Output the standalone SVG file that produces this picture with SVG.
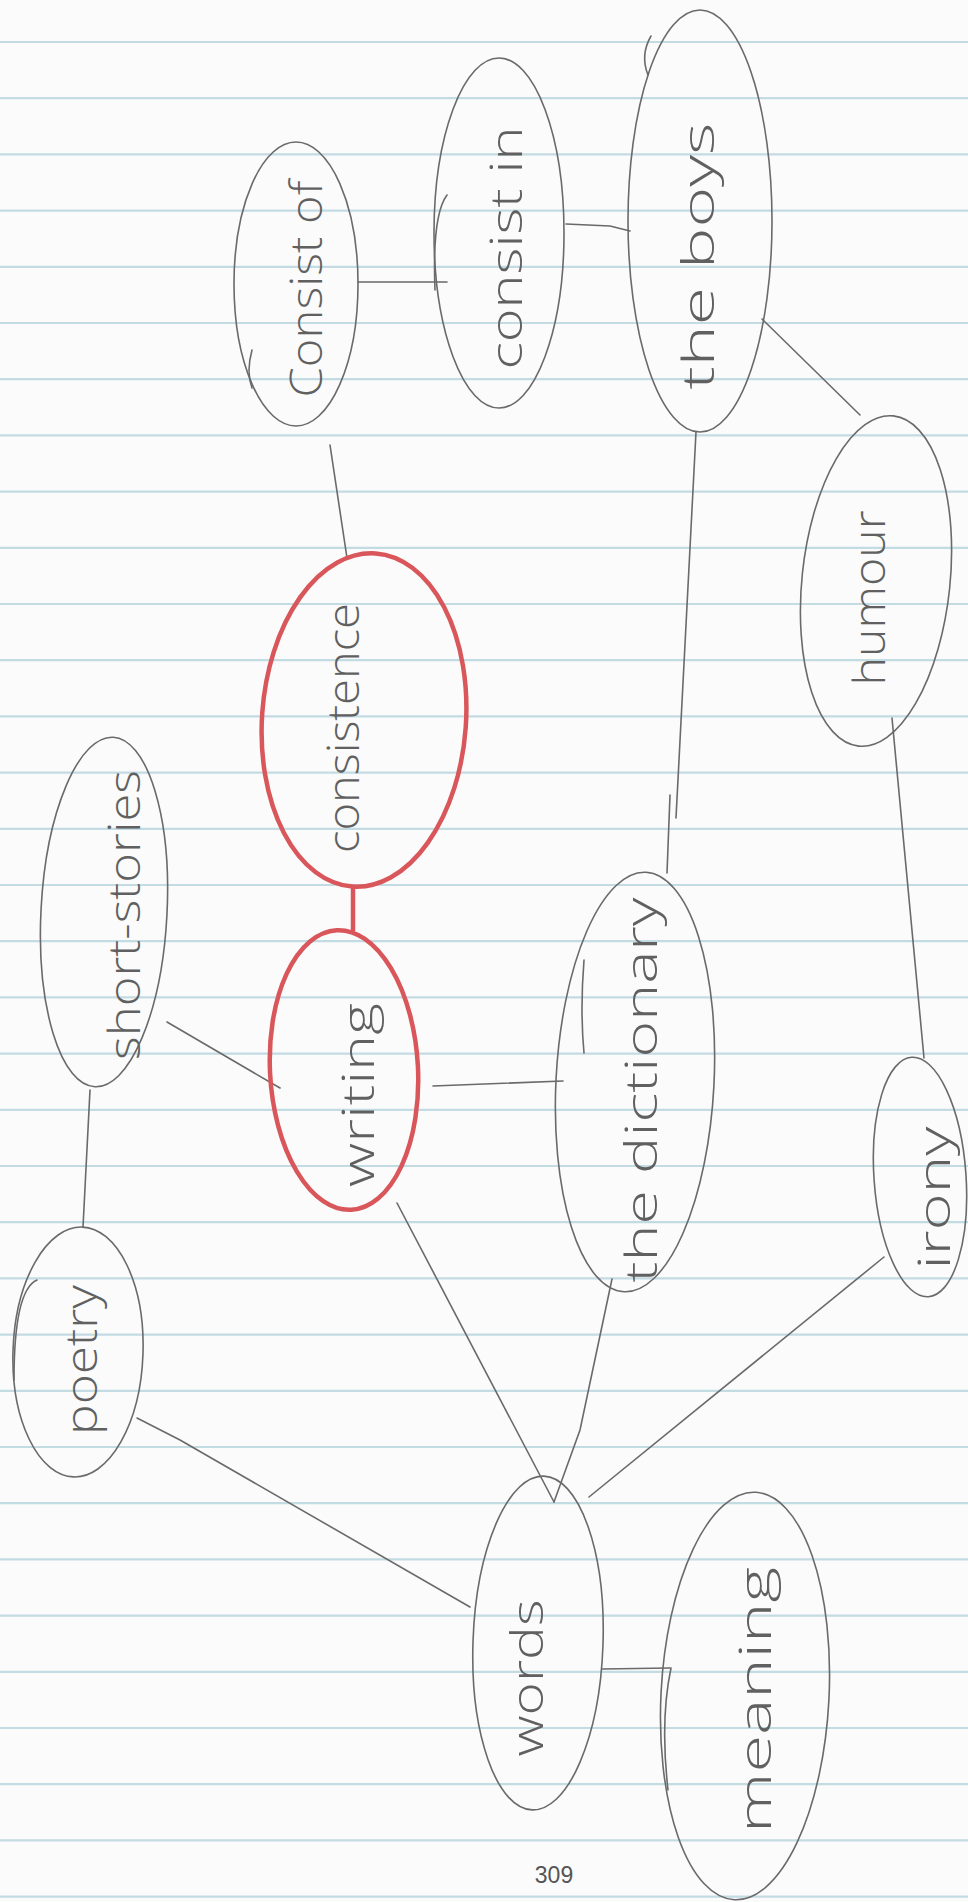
<svg xmlns="http://www.w3.org/2000/svg" width="968" height="1902" viewBox="0 0 968 1902">
<style>
.rule{stroke:#c3dbe2;stroke-width:2.2}
.pen{fill:none;stroke:#6a6a6a;stroke-width:1.6;stroke-linecap:round}
.red{fill:none;stroke:#d9565b;stroke-width:4.5}
.lbl{font-family:"Open Sans","Liberation Sans",sans-serif;font-weight:300;font-size:44px;fill:#606060;text-anchor:middle;dominant-baseline:central}
.num{font-family:"Liberation Sans",Arial,sans-serif;font-size:23px;fill:#555}
</style>
<rect width="968" height="1902" fill="#fafbfa"/>
<g id="paper-lines">
<line class="rule" x1="0" x2="968" y1="42" y2="42"/><line class="rule" x1="0" x2="968" y1="98.2" y2="98.2"/><line class="rule" x1="0" x2="968" y1="154.4" y2="154.4"/><line class="rule" x1="0" x2="968" y1="210.6" y2="210.6"/><line class="rule" x1="0" x2="968" y1="266.8" y2="266.8"/><line class="rule" x1="0" x2="968" y1="323" y2="323"/><line class="rule" x1="0" x2="968" y1="379.2" y2="379.2"/><line class="rule" x1="0" x2="968" y1="435.4" y2="435.4"/><line class="rule" x1="0" x2="968" y1="491.6" y2="491.6"/><line class="rule" x1="0" x2="968" y1="547.8" y2="547.8"/><line class="rule" x1="0" x2="968" y1="604" y2="604"/><line class="rule" x1="0" x2="968" y1="660.2" y2="660.2"/><line class="rule" x1="0" x2="968" y1="716.4" y2="716.4"/><line class="rule" x1="0" x2="968" y1="772.6" y2="772.6"/><line class="rule" x1="0" x2="968" y1="828.8" y2="828.8"/><line class="rule" x1="0" x2="968" y1="885" y2="885"/><line class="rule" x1="0" x2="968" y1="941.2" y2="941.2"/><line class="rule" x1="0" x2="968" y1="997.4" y2="997.4"/><line class="rule" x1="0" x2="968" y1="1053.6" y2="1053.6"/><line class="rule" x1="0" x2="968" y1="1109.8" y2="1109.8"/><line class="rule" x1="0" x2="968" y1="1166" y2="1166"/><line class="rule" x1="0" x2="968" y1="1222.2" y2="1222.2"/><line class="rule" x1="0" x2="968" y1="1278.4" y2="1278.4"/><line class="rule" x1="0" x2="968" y1="1334.6" y2="1334.6"/><line class="rule" x1="0" x2="968" y1="1390.8" y2="1390.8"/><line class="rule" x1="0" x2="968" y1="1447" y2="1447"/><line class="rule" x1="0" x2="968" y1="1503.2" y2="1503.2"/><line class="rule" x1="0" x2="968" y1="1559.4" y2="1559.4"/><line class="rule" x1="0" x2="968" y1="1615.6" y2="1615.6"/><line class="rule" x1="0" x2="968" y1="1671.8" y2="1671.8"/><line class="rule" x1="0" x2="968" y1="1728" y2="1728"/><line class="rule" x1="0" x2="968" y1="1784.2" y2="1784.2"/><line class="rule" x1="0" x2="968" y1="1840.4" y2="1840.4"/><line class="rule" x1="0" x2="968" y1="1896.6" y2="1896.6"/>
</g>
<g id="connectors">
<line class="pen" x1="358" y1="282" x2="447" y2="282"/>
<polyline class="pen" points="566,224 610,226 630,231"/>
<line class="pen" x1="330" y1="445" x2="347" y2="558"/>
<line class="pen" x1="762" y1="319" x2="860" y2="415"/>
<line class="pen" x1="696" y1="432" x2="676" y2="818"/>
<line class="pen" x1="670" y1="795" x2="667" y2="873"/>
<line class="pen" x1="892" y1="718" x2="924" y2="1058"/>
<line class="pen" x1="884" y1="1257" x2="589" y2="1497"/>
<line class="pen" x1="433" y1="1086" x2="563" y2="1081"/>
<line class="red" x1="353" y1="886" x2="353" y2="931"/>
<line class="pen" x1="167" y1="1022" x2="280" y2="1088"/>
<line class="pen" x1="90" y1="1090" x2="83" y2="1227"/>
<polyline class="pen" points="137,1418 180,1440 470,1607"/>
<line class="pen" x1="397" y1="1203" x2="554" y2="1502"/>
<polyline class="pen" points="612,1279 580,1430 554,1502"/>
<line class="pen" x1="602" y1="1669" x2="670" y2="1668"/>
</g>
<g id="node-consist-of">
<ellipse class="pen" cx="296" cy="284" rx="62" ry="142"/>
<path class="pen" d="M252,350 Q246,372 252,388"/>
<text class="lbl" transform="rotate(-90 305 289)" x="305" y="289" textLength="217" lengthAdjust="spacingAndGlyphs">Consist of</text>
</g>
<g id="node-consist-in">
<ellipse class="pen" cx="499" cy="233" rx="65" ry="175"/>
<path class="pen" d="M447,195 Q432,215 435,290"/>
<text class="lbl" transform="rotate(-90 505 248)" x="505" y="248" textLength="243" lengthAdjust="spacingAndGlyphs">consist in</text>
</g>
<g id="node-the-boys">
<ellipse class="pen" cx="700" cy="221" rx="72" ry="211"/>
<path class="pen" d="M651,36 Q640,55 648,75"/>
<text class="lbl" transform="rotate(-90 697 256)" x="697" y="256" textLength="267" lengthAdjust="spacingAndGlyphs">the  boys</text>
</g>
<g id="node-consistence">
<ellipse class="red" cx="364" cy="720" rx="102" ry="167" transform="rotate(4 364 720)"/>
<text class="lbl" transform="rotate(-90 342 728)" x="342" y="728" textLength="250" lengthAdjust="spacingAndGlyphs">consistence</text>
</g>
<g id="node-humour">
<ellipse class="pen" cx="876" cy="581" rx="74" ry="166" transform="rotate(6 876 581)"/>
<text class="lbl" transform="rotate(-90 868 598)" x="868" y="598" textLength="175" lengthAdjust="spacingAndGlyphs">humour</text>
</g>
<g id="node-short-stories">
<ellipse class="pen" cx="104" cy="912" rx="63" ry="175" transform="rotate(3 104 912)"/>
<text class="lbl" transform="rotate(-90 123 915)" x="123" y="915" textLength="290" lengthAdjust="spacingAndGlyphs">short-stories</text>
</g>
<g id="node-writing">
<ellipse class="red" cx="344" cy="1070" rx="74" ry="140" transform="rotate(-3 344 1070)"/>
<text class="lbl" transform="rotate(-90 357 1095)" x="357" y="1095" textLength="184" lengthAdjust="spacingAndGlyphs">writing</text>
</g>
<g id="node-the-dictionary">
<ellipse class="pen" cx="635" cy="1082" rx="79" ry="210" transform="rotate(3 635 1082)"/>
<path class="pen" d="M584,960 Q580,1010 584,1053"/>
<text class="lbl" transform="rotate(-90 640 1090)" x="640" y="1090" textLength="385" lengthAdjust="spacingAndGlyphs">the dictionary</text>
</g>
<g id="node-irony">
<ellipse class="pen" cx="920" cy="1177" rx="46" ry="120" transform="rotate(-4 920 1177)"/>
<text class="lbl" transform="rotate(-90 933 1198)" x="933" y="1198" textLength="143" lengthAdjust="spacingAndGlyphs">irony</text>
</g>
<g id="node-poetry">
<ellipse class="pen" cx="78" cy="1352" rx="65" ry="125" transform="rotate(2 78 1352)"/>
<path class="pen" d="M37,1280 Q14,1290 14,1380"/>
<text class="lbl" transform="rotate(-90 80 1360)" x="80" y="1360" textLength="150" lengthAdjust="spacingAndGlyphs">poetry</text>
</g>
<g id="node-words">
<ellipse class="pen" cx="538" cy="1643" rx="65" ry="167" transform="rotate(2 538 1643)"/>
<text class="lbl" transform="rotate(-90 526 1678)" x="526" y="1678" textLength="157" lengthAdjust="spacingAndGlyphs">words</text>
</g>
<g id="node-meaning">
<ellipse class="pen" cx="745" cy="1696" rx="84" ry="204" transform="rotate(3 745 1696)"/>
<path class="pen" d="M671,1668 Q660,1720 668,1790"/>
<text class="lbl" transform="rotate(-90 754 1700)" x="754" y="1700" textLength="266" lengthAdjust="spacingAndGlyphs">meaning</text>
</g>
<text class="num" x="554" y="1883" text-anchor="middle">309</text>
</svg>
